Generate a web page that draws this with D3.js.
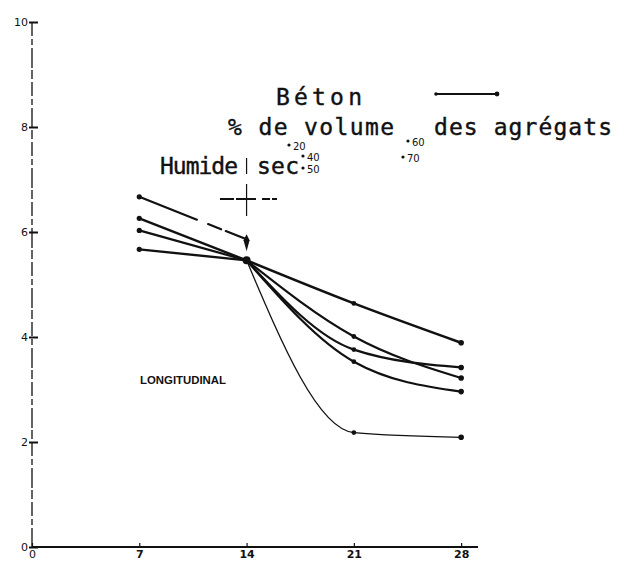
<!DOCTYPE html>
<html><head><meta charset="utf-8">
<script src="https://cdn.jsdelivr.net/npm/d3@7"></script>
<style>body{margin:0;background:#fff}</style>
</head><body>
<svg id="chart" width="630" height="562"></svg>
<script>
// Shrinkage versus age (days); humid curing up to 14 days, drying afterwards
const humidDays = [7, 14];
const dryDays = [14, 21, 28];
const xTicks = [0, 7, 14, 21, 28];
const yTicks = [0, 2, 4, 6, 8, 10];

const betonHumid = [5.67, 5.46];
const betonDry = [5.46, 4.64, 3.89];
const agg20Humid = [6.26, 5.46];
const agg20Dry = [5.46, 4.01, 3.22];
const agg40Humid = [6.03, 5.46];
const agg40Dry = [5.46, 3.76, 3.42];
const agg50Humid = [6.67, 5.86];
const agg50Dry = [5.46, 3.53, 2.96];
const agg70Dry = [5.46, 2.18, 2.09];

const aggLabels = ["20", "40", "50", "60", "70"];
const titleText = "Béton";
const subtitleLeft = "% de volume";
const subtitleRight = "des agrégats";

const svg = d3.select("#chart");
const x = d3.scaleLinear().domain([0, 29.1]).range([32, 478]);
const y = d3.scaleLinear().domain([0, 10]).range([547, 22]);

const ink = "#111";
const mono = "'DejaVu Sans Mono', monospace";

// axes
const yAxis = svg.append("g").attr("transform", `translate(${x(0)},0)`)
  .call(d3.axisLeft(y).tickValues(yTicks).tickSize(-6).tickPadding(4).tickFormat(d3.format("d")));
yAxis.select(".domain").attr("stroke", ink).attr("stroke-width", 1.3)
  .attr("stroke-dasharray", "14,3,6,3,20,2,9,3").attr("d", `M0,${y(10)}V${y(0)}`);
yAxis.selectAll(".tick line").attr("stroke", ink).attr("stroke-width", 2).attr("x1", -3);
yAxis.selectAll(".tick text").attr("font-family", "'DejaVu Sans', sans-serif")
  .attr("font-size", 11).attr("fill", ink).attr("dy", "0.35em");

const xAxis = svg.append("g").attr("transform", `translate(0,${y(0)})`)
  .call(d3.axisBottom(x).tickValues(xTicks).tickSize(-4).tickPadding(3).tickFormat(d3.format("d")));
xAxis.select(".domain").attr("stroke", ink).attr("stroke-width", 2)
  .attr("d", `M${x(0)},0H${x(29.1)}`);
xAxis.selectAll(".tick line").attr("stroke", ink).attr("stroke-width", 1.2);
xAxis.selectAll(".tick text").attr("font-family", "'DejaVu Sans', sans-serif")
  .attr("font-size", 11).attr("font-weight", "bold").attr("fill", ink);
xAxis.selectAll(".tick").filter(d => d === 0).select("text").attr("font-weight", "normal");

// series
const straight = d3.line().x(d => x(d[0])).y(d => y(d[1]));
const smooth = d3.line().x(d => x(d[0])).y(d => y(d[1])).curve(d3.curveMonotoneX);
const pair = (days, vals) => days.map((d, i) => [d, vals[i]]);

const g = svg.append("g").attr("fill", "none").attr("stroke", ink).attr("stroke-linecap", "round");

const humid = [
  { v: betonHumid, w: 2.4 },
  { v: agg20Humid, w: 2.4 },
  { v: agg40Humid, w: 2.2 },
  { v: agg50Humid, w: 2.2, dash: "62,12,14,5,40" }
];
humid.forEach(s => {
  g.append("path").attr("d", straight(pair(humidDays, s.v)))
    .attr("stroke-width", s.w).attr("stroke-dasharray", s.dash || null);
});

const dry = [
  { v: betonDry, w: 2.6 },
  { v: agg20Dry, w: 2.2 },
  { v: agg40Dry, w: 2.2 },
  { v: agg50Dry, w: 2.2 },
  { v: agg70Dry, w: 1.3 }
];
dry.forEach(s => {
  g.append("path").attr("d", smooth(pair(dryDays, s.v))).attr("stroke-width", s.w);
});

// data points
const dots = svg.append("g").attr("fill", ink);
humid.forEach(s => dots.append("circle").attr("cx", x(humidDays[0])).attr("cy", y(s.v[0])).attr("r", 2.6));
dry.forEach(s => {
  dots.append("circle").attr("cx", x(dryDays[1])).attr("cy", y(s.v[1])).attr("r", 2.4);
  dots.append("circle").attr("cx", x(dryDays[2])).attr("cy", y(s.v[2])).attr("r", 2.8);
});
dots.append("circle").attr("cx", x(14)).attr("cy", y(betonDry[0])).attr("r", 4);
// arrow mark at the end of the humid phase
const xm = x(14), ym = y(agg50Humid[1]);
dots.append("path").attr("d", `M${xm},${ym - 5}L${xm + 3},${ym + 1}L${xm},${ym + 12}L${xm - 3},${ym + 1}Z`);

// humid / dry cross at 14 days
svg.append("line").attr("x1", xm).attr("x2", xm).attr("y1", 158).attr("y2", 216)
  .attr("stroke", ink).attr("stroke-width", 1.2).attr("stroke-dasharray", "16,10,40");
svg.append("line").attr("x1", 220).attr("x2", 277).attr("y1", 199).attr("y2", 199)
  .attr("stroke", ink).attr("stroke-width", 1.8).attr("stroke-dasharray", "14,2,20,6,8,2,7");

// text
const bigText = (tx, ty, len, t) => svg.append("text").attr("x", tx).attr("y", ty)
  .attr("font-family", mono).attr("font-size", 23).attr("fill", ink)
  .attr("stroke", ink).attr("stroke-width", 0.4)
  .attr("textLength", len).attr("lengthAdjust", "spacing").text(t);

bigText(276, 105, 86, titleText);
const leg = svg.append("g");
leg.append("line").attr("x1", 436).attr("x2", 497).attr("y1", 94).attr("y2", 94)
  .attr("stroke", ink).attr("stroke-width", 2);
leg.append("circle").attr("cx", 436).attr("cy", 94).attr("r", 1.8).attr("fill", ink);
leg.append("circle").attr("cx", 497).attr("cy", 94).attr("r", 2.4).attr("fill", ink);

bigText(228, 135, 166, subtitleLeft);
bigText(434, 135, 178, subtitleRight);
bigText(160, 174, 78, "Humide");
bigText(257, 174, 42, "sec");

// aggregate volume labels
const small = "'DejaVu Sans', sans-serif";
const aggPos = [[289, 145], [303, 156], [303, 168], [408, 141], [403, 157]];
aggLabels.forEach((t, i) => {
  const [px, py] = aggPos[i];
  svg.append("circle").attr("cx", px).attr("cy", py).attr("r", 1.6).attr("fill", ink);
  svg.append("text").attr("x", px + 4).attr("y", py + 5).attr("font-family", small)
    .attr("font-size", 10).attr("fill", ink).text(t);
});

svg.append("text").attr("x", 140).attr("y", 384).attr("font-family", "'Liberation Sans', sans-serif")
  .attr("font-weight", "bold").attr("font-size", 10.5).attr("fill", ink)
  .attr("textLength", 86).attr("lengthAdjust", "spacingAndGlyphs").text("LONGITUDINAL");
</script>
</body></html>
